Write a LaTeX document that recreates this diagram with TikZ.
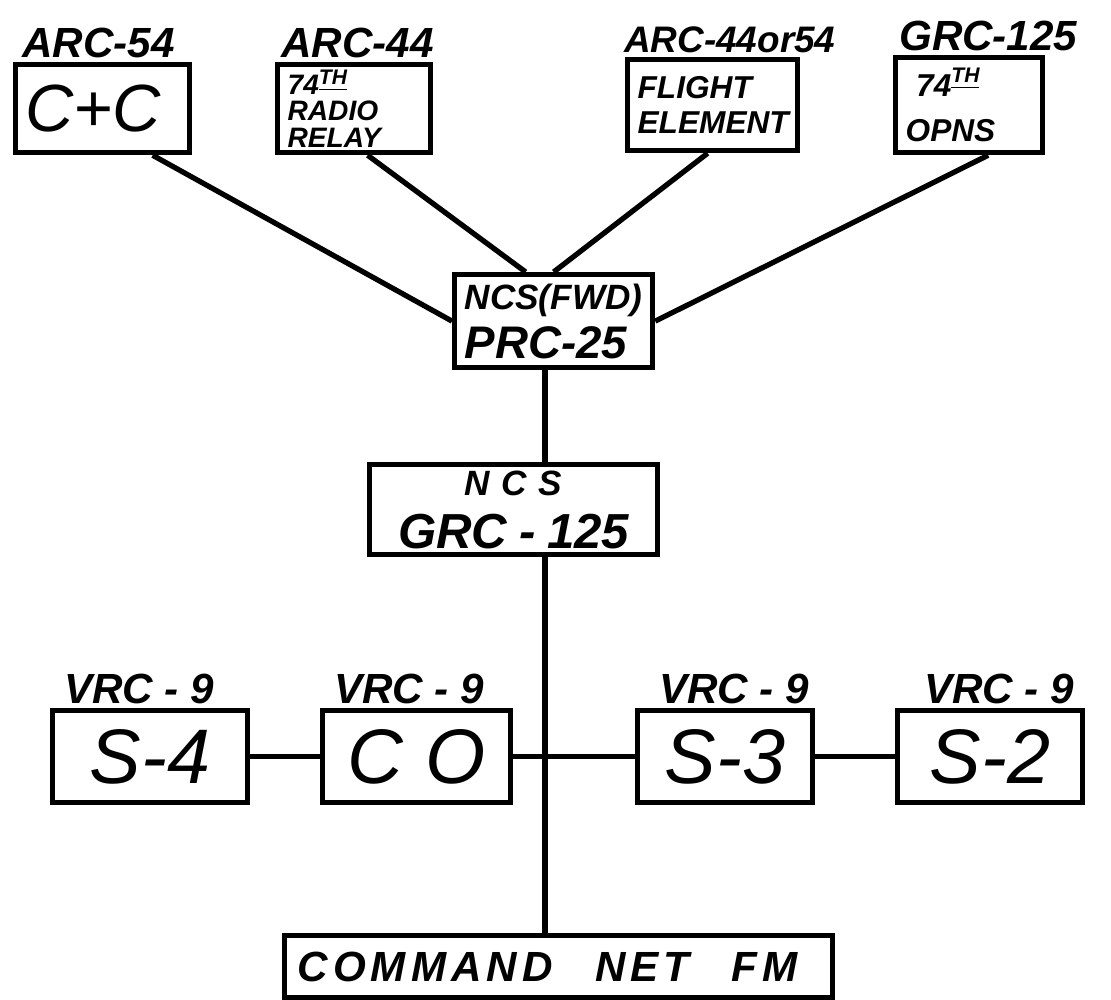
\documentclass[tikz,border=0pt]{standalone}
\usepackage{fontspec}
\setmainfont{Liberation Sans}
\usetikzlibrary{positioning,calc}

\begin{document}
\begin{tikzpicture}[
    unit/.style={draw, line width=1.5pt, anchor=north west, inner xsep=0.1cm, inner ysep=0pt, align=left, font=\bfseries\itshape\fontsize{9}{10}\selectfont},
    rig/.style={draw, line width=1.5pt, anchor=north west, minimum height=0.92cm, inner sep=0pt, font=\itshape\fontsize{22}{22}\selectfont},
    model/.style={anchor=south west, inner sep=1pt, font=\bfseries\itshape\fontsize{12}{12}\selectfont},
    link/.style={line width=1.5pt}]

    \useasboundingbox (0,0) rectangle (11.11,-10);

    % air and forward stations
    \node[unit, text width=1.54cm, minimum height=0.88cm, font=\itshape\fontsize{19}{19}\selectfont] (cc) at (0.13,-0.62) {C+C};
    \node[unit, text width=1.33cm, minimum height=0.88cm, font=\bfseries\itshape\fontsize{8}{7.5}\selectfont] (relay) at (2.75,-0.62) {74\textsuperscript{\underline{TH}}\\RADIO\\RELAY};
    \node[unit, text width=1.50cm, minimum height=0.91cm] (flight) at (6.25,-0.57) {FLIGHT\\ELEMENT};
    \node[unit, text width=1.27cm, minimum height=0.95cm, font=\bfseries\itshape\fontsize{9}{13}\selectfont] (opns) at (8.93,-0.55) {\ 74\textsuperscript{\underline{TH}}\\OPNS};

    \node[model] at ([xshift=0.05cm]cc.north west) {ARC-54};
    \node[model] at ([xshift=0.02cm]relay.north west) {ARC-44};
    \node[model, font=\bfseries\itshape\fontsize{10.5}{11}\selectfont] at ([xshift=-0.05cm]flight.north west) {ARC-44or54};
    \node[model] at ([xshift=0.02cm]opns.north west) {GRC-125};

    % net control
    \node[unit, text width=1.78cm, minimum height=0.93cm, font=\bfseries\itshape\fontsize{10}{14}\selectfont] (fwd) at (4.52,-2.72) {NCS(FWD)\\{\fontsize{13}{13}\selectfont PRC-25}};
    \node[unit, text width=2.68cm, minimum height=0.90cm, align=center, font=\bfseries\itshape\fontsize{10}{15}\selectfont] (ncs) at (3.67,-4.62) {N C S\\{\fontsize{14}{14}\selectfont GRC - 125}};

    % staff vehicles
    \node[rig, minimum width=1.95cm] (s4) at (0.50,-7.08) {S-4};
    \node[rig, minimum width=1.88cm] (co) at (3.20,-7.08) {C O};
    \node[rig, minimum width=1.75cm] (s3) at (6.35,-7.08) {S-3};
    \node[rig, minimum width=1.85cm] (s2) at (8.95,-7.08) {S-2};

    \node[model] at ([xshift=0.10cm]s4.north west) {VRC - 9};
    \node[model] at ([xshift=0.10cm]co.north west) {VRC - 9};
    \node[model] at ([xshift=0.20cm]s3.north west) {VRC - 9};
    \node[model] at ([xshift=0.25cm]s2.north west) {VRC - 9};

    \node[unit, inner xsep=0.13cm, text width=5.22cm, minimum height=0.62cm, font=\bfseries\itshape\fontsize{12}{12}\selectfont\addfontfeatures{LetterSpace=12}] (cmd) at (2.82,-9.33) {COMMAND\quad NET\quad FM};

    \coordinate (hub) at (5.45,-7.54);

    % links
    \draw[link] ([xshift=0.5cm]cc.south) -- (fwd.west);
    \draw[link] ([xshift=0.135cm]relay.south) -- ([xshift=-0.28cm]fwd.north);
    \draw[link] ([xshift=-0.05cm]flight.south) -- (fwd.north);
    \draw[link] ([xshift=0.19cm]opns.south) -- (fwd.east);
    \draw[link] (hub |- fwd.south) -- (hub |- ncs.north);
    \draw[link] (hub |- ncs.south) -- (hub |- cmd.north);
    \draw[link] (s4) -- (co);
    \draw[link] (co) -- (s3);
    \draw[link] (s3) -- (s2);
\end{tikzpicture}
\end{document}
